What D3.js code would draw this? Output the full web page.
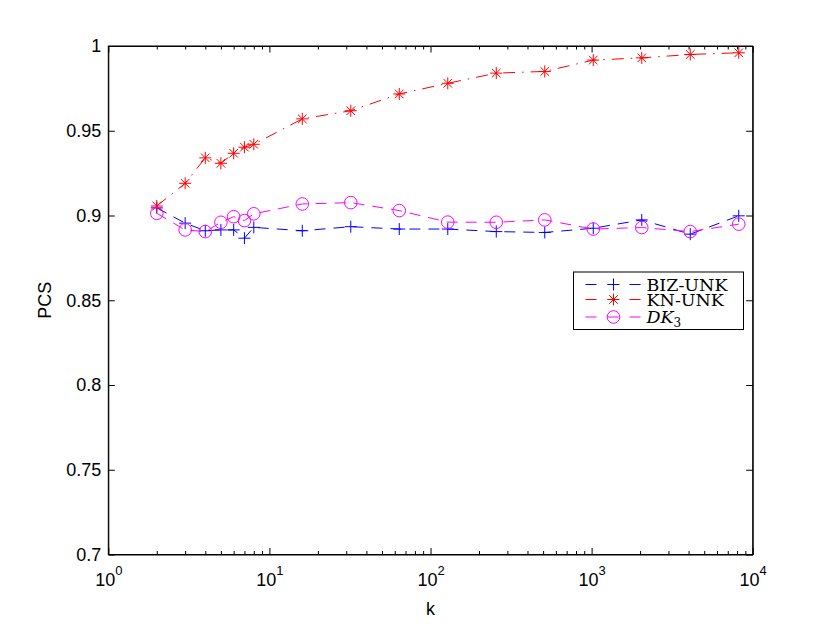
<!DOCTYPE html>
<html>
<head>
<meta charset="utf-8">
<script src="https://cdn.jsdelivr.net/npm/d3@7"></script>
<style>
  body { margin: 0; background: #fff; }
  svg { display: block; }
  .axis text { font-family: "Liberation Sans", Arial, sans-serif; font-size: 18px; fill: #000; }
  .axis path, .axis line { stroke: #000; stroke-width: 1; }
</style>
</head>
<body>
<svg id="chart"></svg>
<script>
// k values (log x axis)
const kValues = [2, 3, 4, 5, 6, 7, 8, 16, 32, 64, 128, 256, 512, 1024, 2048, 4096, 8192];

// PCS per series
const bizUnk = [0.9045, 0.8955, 0.891, 0.8915, 0.8915, 0.8866, 0.893, 0.891, 0.8934, 0.892, 0.892, 0.8905, 0.890, 0.8925, 0.8974, 0.889, 0.8998];
const knUnk  = [0.9056, 0.919, 0.934, 0.9308, 0.9367, 0.9403, 0.942, 0.957, 0.9618, 0.9717, 0.978, 0.984, 0.985, 0.9917, 0.993, 0.995, 0.996];
const dk3    = [0.9013, 0.8915, 0.8905, 0.896, 0.8993, 0.897, 0.901, 0.9068, 0.9076, 0.9029, 0.8961, 0.896, 0.8974, 0.892, 0.8929, 0.8905, 0.8949];

// axis ticks
const xMajorTicks = [1, 10, 100, 1000, 10000];
const xExponents = ['0', '1', '2', '3', '4'];
const yTicks = [0.7, 0.75, 0.8, 0.85, 0.9, 0.95, 1];

const series = [
  { name: 'BIZ-UNK', values: bizUnk, color: '#0000ff', dash: '11,8', marker: 'plus' },
  { name: 'KN-UNK', values: knUnk, color: '#ff0000', dash: '12,7,1.5,7', marker: 'star' },
  { name: 'DK3', values: dk3, color: '#ff00ff', dash: '11,8', marker: 'circle' }
];

const width = 830, height = 624;
const margin = { top: 46, right: 77.3, bottom: 69.5, left: 108.3 };
const innerW = width - margin.left - margin.right;
const innerH = height - margin.top - margin.bottom;

const svg = d3.select('#chart').attr('width', width).attr('height', height);
const chart = svg.append('g').attr('transform', `translate(${margin.left},${margin.top})`);

const xScale = d3.scaleLog().domain([1, 10000]).range([0, innerW]);
const yScale = d3.scaleLinear().domain([0.7, 1]).range([innerH, 0]);

// marker shapes
const markerPath = {
  plus: 'M-6,0H6M0,-6V6',
  star: 'M-6,0H6M0,-6V6M-4.3,-4.3L4.3,4.3M-4.3,4.3L4.3,-4.3'
};
function drawMarker(g, type, color) {
  if (type === 'circle') {
    g.append('circle').attr('r', 6.3).attr('fill', 'none').attr('stroke', color).attr('stroke-width', 1);
  } else {
    g.append('path').attr('d', markerPath[type]).attr('fill', 'none').attr('stroke', color).attr('stroke-width', 1);
  }
}

// minor ticks on log axis (bottom and top)
const minorTicks = xScale.ticks().filter(d => !xMajorTicks.includes(d));
chart.append('g').attr('class', 'axis').attr('transform', `translate(0,${innerH})`)
  .call(d3.axisBottom(xScale).tickValues(minorTicks).tickSize(-3.5).tickFormat(''))
  .call(g => g.select('.domain').remove());
chart.append('g').attr('class', 'axis')
  .call(d3.axisTop(xScale).tickValues(minorTicks).tickSize(-3.5).tickFormat(''))
  .call(g => g.select('.domain').remove());

// major x ticks with 10^n labels
const xAxisG = chart.append('g').attr('class', 'axis').attr('transform', `translate(0,${innerH})`)
  .call(d3.axisBottom(xScale).tickValues(xMajorTicks).tickSizeInner(-6.5).tickSizeOuter(0).tickFormat(''));
xAxisG.selectAll('.tick text').each(function(d, i) {
  const t = d3.select(this).attr('y', 31).attr('dy', null);
  t.append('tspan').text('10');
  t.append('tspan').attr('dy', -11).style('font-size', '13px').text(xExponents[i]);
});
chart.append('g').attr('class', 'axis')
  .call(d3.axisTop(xScale).tickValues(xMajorTicks).tickSizeInner(-6.5).tickSizeOuter(0).tickFormat(''));

// y axes
chart.append('g').attr('class', 'axis')
  .call(d3.axisLeft(yScale).tickValues(yTicks).tickSizeInner(-6.5).tickSizeOuter(0).tickPadding(7).tickFormat(d3.format('~g')));
chart.append('g').attr('class', 'axis').attr('transform', `translate(${innerW},0)`)
  .call(d3.axisRight(yScale).tickValues(yTicks).tickSizeInner(-6.5).tickSizeOuter(0).tickFormat(''));

// axes box
chart.append('rect').attr('width', innerW).attr('height', innerH)
  .attr('fill', 'none').attr('stroke', '#000').attr('stroke-width', 1);

// axis titles
svg.append('text')
  .attr('x', margin.left + innerW / 2).attr('y', 615)
  .attr('text-anchor', 'middle')
  .style('font-family', '"Liberation Sans", Arial, sans-serif').style('font-size', '18px')
  .text('k');
svg.append('text')
  .attr('transform', `translate(51,${margin.top + innerH / 2}) rotate(-90)`)
  .attr('text-anchor', 'middle')
  .style('font-family', '"Liberation Sans", Arial, sans-serif').style('font-size', '18px')
  .text('PCS');

// lines + markers
const line = d3.line().x(d => xScale(d[0])).y(d => yScale(d[1]));
series.forEach(s => {
  const pts = kValues.map((k, i) => [k, s.values[i]]);
  chart.append('path').datum(pts)
    .attr('d', line).attr('fill', 'none')
    .attr('stroke', s.color).attr('stroke-width', 1).attr('stroke-dasharray', s.dash);
  pts.forEach(p => {
    const g = chart.append('g').attr('transform', `translate(${xScale(p[0])},${yScale(p[1])})`);
    drawMarker(g, s.marker, s.color);
  });
});

// legend
const legend = svg.append('g').attr('transform', 'translate(573.5,272)');
legend.append('rect').attr('width', 170).attr('height', 57.5)
  .attr('fill', '#fff').attr('stroke', '#000').attr('stroke-width', 1);
const rowY = [12.5, 27.5, 45];
series.forEach((s, i) => {
  const row = legend.append('g').attr('transform', `translate(0,${rowY[i]})`);
  row.append('line').attr('x1', 12).attr('x2', 68)
    .attr('stroke', s.color).attr('stroke-width', 1).attr('stroke-dasharray', '11,11');
  const m = row.append('g').attr('transform', 'translate(40,0)');
  drawMarker(m, s.marker, s.color);
  const t = row.append('text').attr('x', 73).attr('y', 6)
    .style('font-family', '"DejaVu Serif", "Liberation Serif", serif').style('font-size', '17.5px');
  if (s.name === 'DK3') {
    t.append('tspan').style('font-style', 'italic').text('DK');
    t.append('tspan').attr('dy', 4).style('font-size', '12px').text('3');
  } else {
    t.text(s.name);
  }
});
</script>
</body>
</html>
